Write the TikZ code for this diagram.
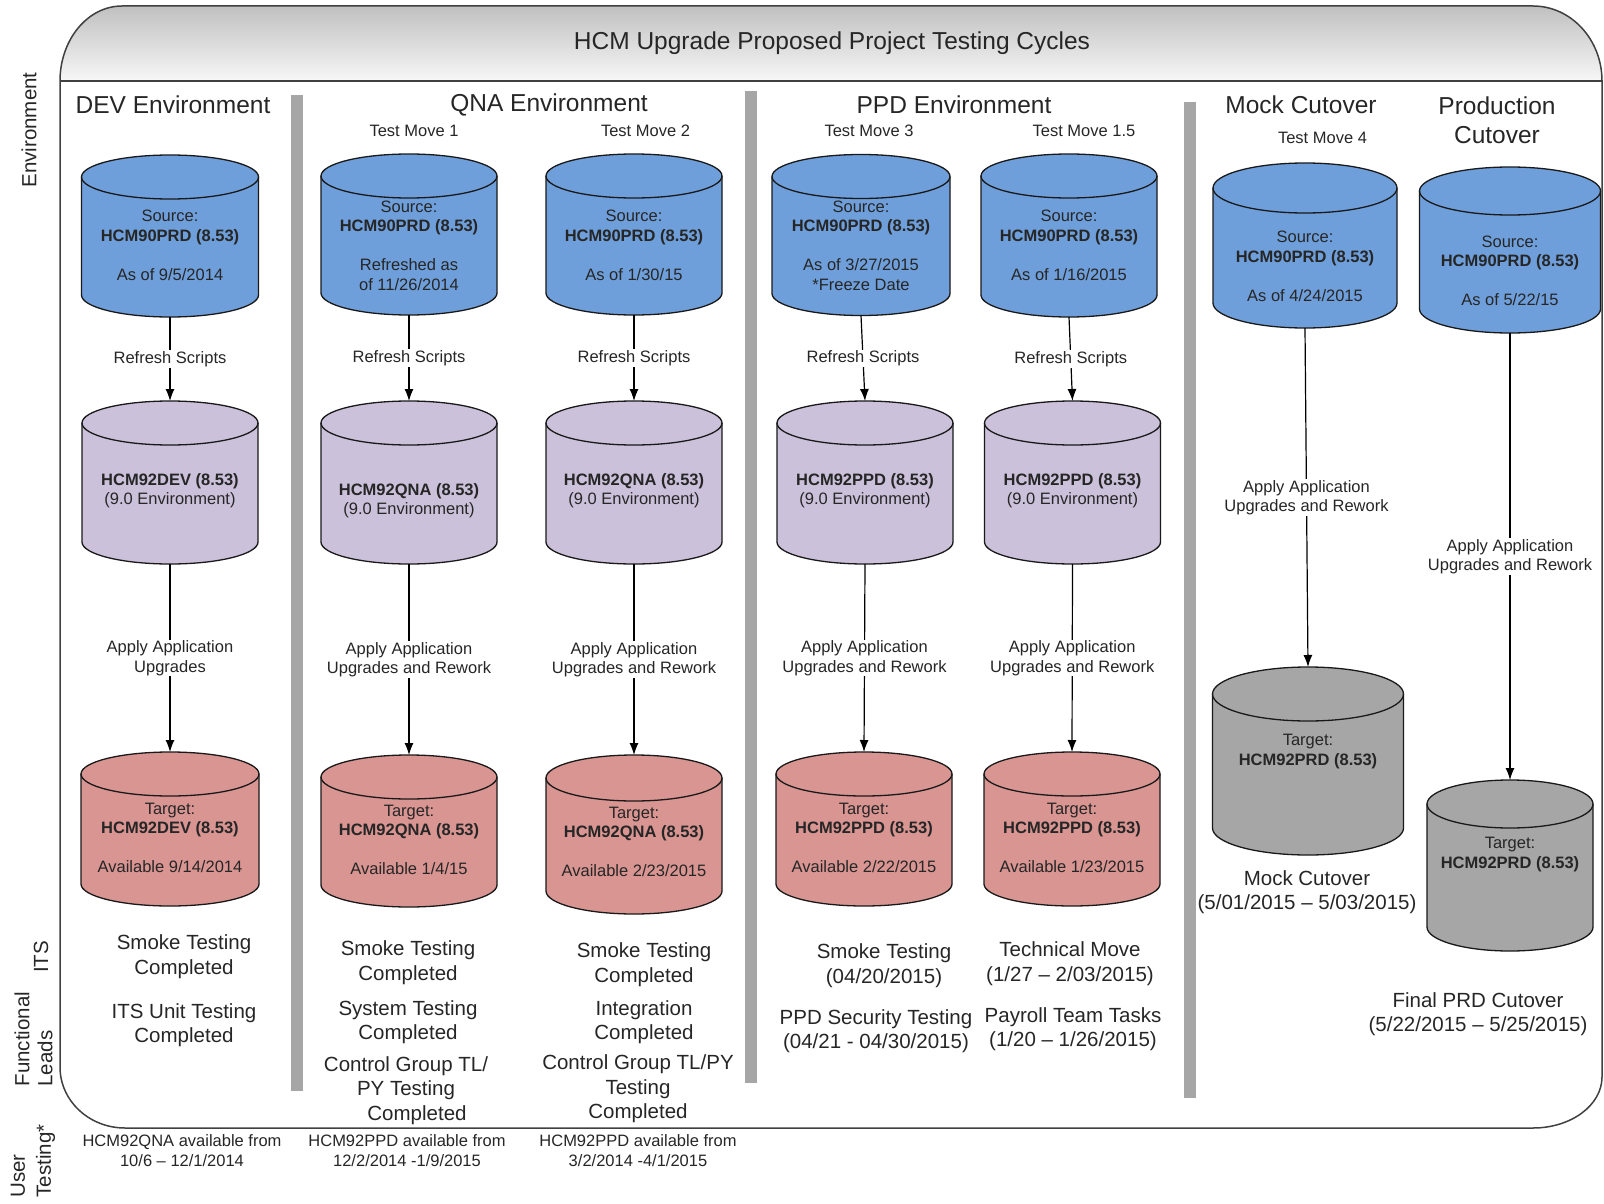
\documentclass[tikz,border=0pt]{standalone}
\usepackage{fontspec}
\setmainfont{Liberation Sans}
\usetikzlibrary{positioning}
\usetikzlibrary{calc}
\usetikzlibrary{arrows.meta}

\definecolor{srcblue}{RGB}{111,159,218}
\definecolor{midlav}{RGB}{204,193,218}
\definecolor{tgtred}{RGB}{217,149,146}
\definecolor{tgtgray}{RGB}{166,166,166}
\definecolor{barg}{RGB}{166,166,166}
\definecolor{hdrtop}{RGB}{192,192,192}
\definecolor{hdrbot}{RGB}{247,247,247}
\definecolor{txt}{RGB}{38,38,38}

% database drum: name, x, y, width, height, cap radius, fill
\newcommand{\dbdrum}[7]{%
  \node[dbbox, minimum width=#4pt, minimum height=#5pt] (#1) at (#2,#3) {};
  \filldraw[dbline, fill=#7] ($(#1.north west)+(0,#6)$) -- ($(#1.south west)+(0,-#6)$)
    arc[start angle=180, end angle=0, x radius={#4/2}, y radius=#6]
    -- ($(#1.north east)+(0,#6)$)
    arc[start angle=0, end angle=-180, x radius={#4/2}, y radius=#6] -- cycle;
  \draw[dbline] ($(#1.north west)+(0,#6)$) arc[start angle=180, end angle=0, x radius={#4/2}, y radius=#6];
}

\begin{document}
\begin{tikzpicture}[x=1pt,y=-1pt,>={Latex[length=12pt,width=9pt]},
  dbbox/.style={rectangle, inner sep=0pt, outer sep=0pt},
  dbline/.style={draw=black!90, line width=1.3pt},
  small/.style={font=\fontsize{16.5}{19.5}\selectfont, text=txt, align=center},
  body/.style={font=\fontsize{20.5}{24.5}\selectfont, text=txt, align=center},
  head/.style={font=\fontsize{24.5}{29.5}\selectfont, text=txt, align=center},
  side/.style={font=\fontsize{20.5}{23}\selectfont, text=txt, rotate=90},
  flow/.style={->, line width=1.2pt, black},
  lbl/.style={small, fill=white, inner sep=1pt}]

\useasboundingbox (0,0) rectangle (1604,1204);

% header band and frame
\shade[top color=hdrtop, bottom color=hdrbot] (60,81) arc[start angle=180, end angle=270, x radius=62, y radius=75]
  -- (1533,6) arc[start angle=270, end angle=360, x radius=69, y radius=75] -- cycle;
\draw[line width=1.5pt, black!75] (60,81) arc[start angle=180, end angle=270, x radius=62, y radius=75]
  -- (1533,6) arc[start angle=270, end angle=360, x radius=69, y radius=75]
  -- (1602,1077) arc[start angle=0, end angle=90, x radius=69, y radius=51]
  -- (125,1128) arc[start angle=90, end angle=180, x radius=65, y radius=61] -- cycle;
\draw[line width=2.5pt, black!75] (60,81) -- (1602,81);

% separators
\fill[barg] (291,95) rectangle (303,1091);
\fill[barg] (745,91) rectangle (757,1083);
\fill[barg] (1184,102) rectangle (1196,1098);

% titles
\node[head] (title) at (832,43) {HCM Upgrade Proposed Project Testing Cycles};
\node[head] (devT) at (173,105) {DEV Environment};
\node[head] (qnaT) at (549,105) {QNA Environment};
\node[head] (ppdT) at (954,105) {PPD Environment};
\node[head] (mockT) at (1301,105) {Mock Cutover};
\node[head] (prodT) at (1497,120) {Production\\Cutover};
\node[small] (tm1) at (414,131) {Test Move 1};
\node[small] (tm2) at (645.5,131) {Test Move 2};
\node[small] (tm3) at (869,131) {Test Move 3};
\node[small] (tm15) at (1084,131) {Test Move 1.5};
\node[small] (tm4) at (1322.5,138) {Test Move 4};

% row headings
\node[side] (envL) at (29,130) {Environment};
\node[side] (itsL) at (41,957) {ITS};
\node[side, align=left, anchor=west] (flL) at (33.5,1090) {Functional\\Leads};
\node[side, align=left, anchor=west, font=\fontsize{20.5}{26}\selectfont] (utL) at (33,1201) {User\\Testing*};

% source databases
\dbdrum{s1}{170}{236}{177}{162}{22}{srcblue}
\dbdrum{s2}{409}{234.5}{176}{161}{22}{srcblue}
\dbdrum{s3}{634}{234.5}{176}{161}{22}{srcblue}
\dbdrum{s4}{861}{235}{178}{161}{22}{srcblue}
\dbdrum{s5}{1069}{235.5}{176}{163}{22}{srcblue}
\dbdrum{s6}{1305}{245.5}{184}{165}{25}{srcblue}
\dbdrum{s7}{1510}{250}{181}{166}{24}{srcblue}

% 9.0 environments
\dbdrum{m1}{170}{482.5}{176}{163}{22}{midlav}
\dbdrum{m2}{409}{482.5}{176}{163}{22}{midlav}
\dbdrum{m3}{634}{482.5}{176}{163}{22}{midlav}
\dbdrum{m4}{865}{482.5}{176}{163}{22}{midlav}
\dbdrum{m5}{1072.5}{482.5}{176}{163}{22}{midlav}

% targets
\dbdrum{r1}{170}{829}{178}{154}{22}{tgtred}
\dbdrum{r2}{409}{831}{176}{152}{22}{tgtred}
\dbdrum{r3}{634}{834.5}{176}{159}{23}{tgtred}
\dbdrum{r4}{864}{829}{176}{154}{22}{tgtred}
\dbdrum{r5}{1072}{829}{176}{154}{22}{tgtred}
\dbdrum{g6}{1308}{761}{191}{188}{27}{tgtgray}
\dbdrum{g7}{1510}{865.5}{166}{171}{24}{tgtgray}

% database texts
\node[small] (s1t) at (170,245.5) {Source:\\\textbf{HCM90PRD (8.53)}\\[19.5pt]As of 9/5/2014};
\node[small] (s2t) at (409,245.5) {Source:\\\textbf{HCM90PRD (8.53)}\\[19.5pt]Refreshed as\\of 11/26/2014};
\node[small] (s3t) at (634,245.5) {Source:\\\textbf{HCM90PRD (8.53)}\\[19.5pt]As of 1/30/15};
\node[small] (s4t) at (861,245.5) {Source:\\\textbf{HCM90PRD (8.53)}\\[19.5pt]As of 3/27/2015\\*Freeze Date};
\node[small] (s5t) at (1069,245.5) {Source:\\\textbf{HCM90PRD (8.53)}\\[19.5pt]As of 1/16/2015};
\node[small] (s6t) at (1305,266.5) {Source:\\\textbf{HCM90PRD (8.53)}\\[19.5pt]As of 4/24/2015};
\node[small] (s7t) at (1510,271) {Source:\\\textbf{HCM90PRD (8.53)}\\[19.5pt]As of 5/22/15};

\node[small] (m1t) at (170,490.5) {\textbf{HCM92DEV (8.53)}\\(9.0 Environment)};
\node[small] (m2t) at (409,500.5) {\textbf{HCM92QNA (8.53)}\\(9.0 Environment)};
\node[small] (m3t) at (634,490.5) {\textbf{HCM92QNA (8.53)}\\(9.0 Environment)};
\node[small] (m4t) at (865,490.5) {\textbf{HCM92PPD (8.53)}\\(9.0 Environment)};
\node[small] (m5t) at (1072.5,490.5) {\textbf{HCM92PPD (8.53)}\\(9.0 Environment)};

\node[small] (r1t) at (170,838) {Target:\\\textbf{HCM92DEV (8.53)}\\[19.5pt]Available 9/14/2014};
\node[small] (r2t) at (409,840) {Target:\\\textbf{HCM92QNA (8.53)}\\[19.5pt]Available 1/4/15};
\node[small] (r3t) at (634,842) {Target:\\\textbf{HCM92QNA (8.53)}\\[19.5pt]Available 2/23/2015};
\node[small] (r4t) at (864,838) {Target:\\\textbf{HCM92PPD (8.53)}\\[19.5pt]Available 2/22/2015};
\node[small] (r5t) at (1072,838) {Target:\\\textbf{HCM92PPD (8.53)}\\[19.5pt]Available 1/23/2015};
\node[small] (g6t) at (1308,751.5) {Target:\\\textbf{HCM92PRD (8.53)}};
\node[small] (g7t) at (1510,854.5) {Target:\\\textbf{HCM92PRD (8.53)}};

% refresh
\draw[flow] (s1.south) -- (m1.north) node[lbl, midway] (rs1) {Refresh Scripts};
\draw[flow] (s2.south) -- (m2.north) node[lbl, midway] (rs2) {Refresh Scripts};
\draw[flow] (s3.south) -- (m3.north) node[lbl, midway] (rs3) {Refresh Scripts};
\draw[flow] (s4.south) -- (m4.north) node[lbl, midway] (rs4) {Refresh Scripts};
\draw[flow] (s5.south) -- (m5.north) node[lbl, midway] (rs5) {Refresh Scripts};

% upgrades
\draw[flow] (m1.south) -- (r1.north) node[lbl, midway] (up1) {Apply Application\\Upgrades};
\draw[flow] (m2.south) -- (r2.north) node[lbl, midway] (up2) {Apply Application\\Upgrades and Rework};
\draw[flow] (m3.south) -- (r3.north) node[lbl, midway] (up3) {Apply Application\\Upgrades and Rework};
\draw[flow] (m4.south) -- (r4.north) node[lbl, midway] (up4) {Apply Application\\Upgrades and Rework};
\draw[flow] (m5.south) -- (r5.north) node[lbl, midway] (up5) {Apply Application\\Upgrades and Rework};
\draw[flow] (s6.south) -- (g6.north) node[lbl, midway] (up6) {Apply Application\\Upgrades and Rework};
\draw[flow] (s7.south) -- (g7.north) node[lbl, midway] (up7) {Apply Application\\Upgrades and Rework};

% testing notes
\node[body] (its1) at (184,956.5) {Smoke Testing\\Completed};
\node[body] (fl1) at (184,1025) {ITS Unit Testing\\Completed};
\node[body] (its2) at (408,962.5) {Smoke Testing\\Completed};
\node[body] (fl2) at (408,1022) {System Testing\\Completed};
\node[body] (cg2) at (406,1090.5) {Control Group TL/\\PY Testing\\\hspace*{22pt}Completed};
\node[body] (its3) at (644,964.5) {Smoke Testing\\Completed};
\node[body] (fl3) at (644,1022) {Integration\\Completed};
\node[body] (cg3) at (638,1089) {Control Group TL/PY\\Testing\\Completed};
\node[body] (its4) at (884,965.5) {Smoke Testing\\(04/20/2015)};
\node[body] (fl4) at (876,1031) {PPD Security Testing\\(04/21 - 04/30/2015)};
\node[body] (its5) at (1070,963.5) {Technical Move\\(1/27 -- 2/03/2015)};
\node[body] (fl5) at (1073,1029) {Payroll Team Tasks\\(1/20 -- 1/26/2015)};
\node[body] (mockN) at (1307,892) {Mock Cutover\\(5/01/2015 -- 5/03/2015)};
\node[body] (finalN) at (1478,1014) {Final PRD Cutover\\(5/22/2015 -- 5/25/2015)};

% user testing
\node[small] (ut1) at (182,1150.5) {HCM92QNA available from\\10/6 -- 12/1/2014};
\node[small] (ut2) at (407,1150.5) {HCM92PPD available from\\12/2/2014 -1/9/2015};
\node[small] (ut3) at (638,1150.5) {HCM92PPD available from\\3/2/2014 -4/1/2015};

\end{tikzpicture}
\end{document}
